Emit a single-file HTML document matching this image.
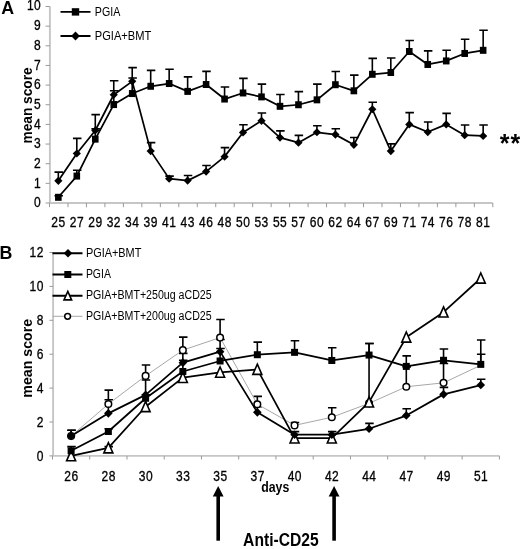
<!DOCTYPE html>
<html><head><meta charset="utf-8"><title>mean score chart</title>
<style>
html,body{margin:0;padding:0;background:#fff;}
body{width:520px;height:549px;overflow:hidden;}
svg{display:block;font-family:"Liberation Sans", sans-serif;will-change:transform;}
</style></head><body>
<svg width="520" height="549" viewBox="0 0 520 549">
<rect width="520" height="549" fill="#fff"/>
<path d="M49.9 6.5V203.0H492.8" stroke="#c6c6c6" stroke-width="1.9" fill="none"/>
<path d="M45.6 203H49.9M45.6 183.35H49.9M45.6 163.7H49.9M45.6 144.05H49.9M45.6 124.4H49.9M45.6 104.75H49.9M45.6 85.1H49.9M45.6 65.45H49.9M45.6 45.8H49.9M45.6 26.15H49.9M45.6 6.5H49.9M49.5 203.0V207.2M67.97 203.0V207.2M86.44 203.0V207.2M104.91 203.0V207.2M123.38 203.0V207.2M141.85 203.0V207.2M160.33 203.0V207.2M178.8 203.0V207.2M197.27 203.0V207.2M215.74 203.0V207.2M234.21 203.0V207.2M252.68 203.0V207.2M271.15 203.0V207.2M289.62 203.0V207.2M308.09 203.0V207.2M326.56 203.0V207.2M345.03 203.0V207.2M363.5 203.0V207.2M381.98 203.0V207.2M400.45 203.0V207.2M418.92 203.0V207.2M437.39 203.0V207.2M455.86 203.0V207.2M474.33 203.0V207.2M492.8 203.0V207.2" stroke="#9a9a9a" stroke-width="1" fill="none"/>
<text transform="translate(41.3 207.3) scale(0.86 1)" font-size="14" text-anchor="end" font-weight="normal" letter-spacing="0.6" stroke="#000" stroke-width="0.3">0</text>
<text transform="translate(41.3 187.65) scale(0.86 1)" font-size="14" text-anchor="end" font-weight="normal" letter-spacing="0.6" stroke="#000" stroke-width="0.3">1</text>
<text transform="translate(41.3 168) scale(0.86 1)" font-size="14" text-anchor="end" font-weight="normal" letter-spacing="0.6" stroke="#000" stroke-width="0.3">2</text>
<text transform="translate(41.3 148.35) scale(0.86 1)" font-size="14" text-anchor="end" font-weight="normal" letter-spacing="0.6" stroke="#000" stroke-width="0.3">3</text>
<text transform="translate(41.3 128.7) scale(0.86 1)" font-size="14" text-anchor="end" font-weight="normal" letter-spacing="0.6" stroke="#000" stroke-width="0.3">4</text>
<text transform="translate(41.3 109.05) scale(0.86 1)" font-size="14" text-anchor="end" font-weight="normal" letter-spacing="0.6" stroke="#000" stroke-width="0.3">5</text>
<text transform="translate(41.3 89.4) scale(0.86 1)" font-size="14" text-anchor="end" font-weight="normal" letter-spacing="0.6" stroke="#000" stroke-width="0.3">6</text>
<text transform="translate(41.3 69.75) scale(0.86 1)" font-size="14" text-anchor="end" font-weight="normal" letter-spacing="0.6" stroke="#000" stroke-width="0.3">7</text>
<text transform="translate(41.3 50.1) scale(0.86 1)" font-size="14" text-anchor="end" font-weight="normal" letter-spacing="0.6" stroke="#000" stroke-width="0.3">8</text>
<text transform="translate(41.3 30.45) scale(0.86 1)" font-size="14" text-anchor="end" font-weight="normal" letter-spacing="0.6" stroke="#000" stroke-width="0.3">9</text>
<text transform="translate(41.3 9.8) scale(0.86 1)" font-size="14" text-anchor="end" font-weight="normal" letter-spacing="0.6" stroke="#000" stroke-width="0.3">10</text>
<text transform="translate(58.44 227) scale(0.86 1)" font-size="14" text-anchor="middle" font-weight="normal" letter-spacing="0.6" stroke="#000" stroke-width="0.3">25</text>
<text transform="translate(76.91 227) scale(0.86 1)" font-size="14" text-anchor="middle" font-weight="normal" letter-spacing="0.6" stroke="#000" stroke-width="0.3">27</text>
<text transform="translate(95.38 227) scale(0.86 1)" font-size="14" text-anchor="middle" font-weight="normal" letter-spacing="0.6" stroke="#000" stroke-width="0.3">29</text>
<text transform="translate(113.85 227) scale(0.86 1)" font-size="14" text-anchor="middle" font-weight="normal" letter-spacing="0.6" stroke="#000" stroke-width="0.3">32</text>
<text transform="translate(132.32 227) scale(0.86 1)" font-size="14" text-anchor="middle" font-weight="normal" letter-spacing="0.6" stroke="#000" stroke-width="0.3">34</text>
<text transform="translate(150.79 227) scale(0.86 1)" font-size="14" text-anchor="middle" font-weight="normal" letter-spacing="0.6" stroke="#000" stroke-width="0.3">39</text>
<text transform="translate(169.26 227) scale(0.86 1)" font-size="14" text-anchor="middle" font-weight="normal" letter-spacing="0.6" stroke="#000" stroke-width="0.3">41</text>
<text transform="translate(187.73 227) scale(0.86 1)" font-size="14" text-anchor="middle" font-weight="normal" letter-spacing="0.6" stroke="#000" stroke-width="0.3">43</text>
<text transform="translate(206.2 227) scale(0.86 1)" font-size="14" text-anchor="middle" font-weight="normal" letter-spacing="0.6" stroke="#000" stroke-width="0.3">46</text>
<text transform="translate(224.67 227) scale(0.86 1)" font-size="14" text-anchor="middle" font-weight="normal" letter-spacing="0.6" stroke="#000" stroke-width="0.3">48</text>
<text transform="translate(243.14 227) scale(0.86 1)" font-size="14" text-anchor="middle" font-weight="normal" letter-spacing="0.6" stroke="#000" stroke-width="0.3">50</text>
<text transform="translate(261.61 227) scale(0.86 1)" font-size="14" text-anchor="middle" font-weight="normal" letter-spacing="0.6" stroke="#000" stroke-width="0.3">53</text>
<text transform="translate(280.09 227) scale(0.86 1)" font-size="14" text-anchor="middle" font-weight="normal" letter-spacing="0.6" stroke="#000" stroke-width="0.3">55</text>
<text transform="translate(298.56 227) scale(0.86 1)" font-size="14" text-anchor="middle" font-weight="normal" letter-spacing="0.6" stroke="#000" stroke-width="0.3">57</text>
<text transform="translate(317.03 227) scale(0.86 1)" font-size="14" text-anchor="middle" font-weight="normal" letter-spacing="0.6" stroke="#000" stroke-width="0.3">60</text>
<text transform="translate(335.5 227) scale(0.86 1)" font-size="14" text-anchor="middle" font-weight="normal" letter-spacing="0.6" stroke="#000" stroke-width="0.3">62</text>
<text transform="translate(353.97 227) scale(0.86 1)" font-size="14" text-anchor="middle" font-weight="normal" letter-spacing="0.6" stroke="#000" stroke-width="0.3">64</text>
<text transform="translate(372.44 227) scale(0.86 1)" font-size="14" text-anchor="middle" font-weight="normal" letter-spacing="0.6" stroke="#000" stroke-width="0.3">67</text>
<text transform="translate(390.91 227) scale(0.86 1)" font-size="14" text-anchor="middle" font-weight="normal" letter-spacing="0.6" stroke="#000" stroke-width="0.3">69</text>
<text transform="translate(409.38 227) scale(0.86 1)" font-size="14" text-anchor="middle" font-weight="normal" letter-spacing="0.6" stroke="#000" stroke-width="0.3">71</text>
<text transform="translate(427.85 227) scale(0.86 1)" font-size="14" text-anchor="middle" font-weight="normal" letter-spacing="0.6" stroke="#000" stroke-width="0.3">74</text>
<text transform="translate(446.32 227) scale(0.86 1)" font-size="14" text-anchor="middle" font-weight="normal" letter-spacing="0.6" stroke="#000" stroke-width="0.3">76</text>
<text transform="translate(464.79 227) scale(0.86 1)" font-size="14" text-anchor="middle" font-weight="normal" letter-spacing="0.6" stroke="#000" stroke-width="0.3">78</text>
<text transform="translate(483.26 227) scale(0.86 1)" font-size="14" text-anchor="middle" font-weight="normal" letter-spacing="0.6" stroke="#000" stroke-width="0.3">81</text>
<path d="M58.34 197.3V195.73M54.49 195.73H62.99" stroke="#000" stroke-width="1.6" fill="none"/>
<path d="M58.34 180.8V172.15M54.49 172.15H62.99" stroke="#000" stroke-width="1.6" fill="none"/>
<path d="M76.81 176.08V170.18M72.96 170.18H81.46" stroke="#000" stroke-width="1.6" fill="none"/>
<path d="M76.81 153.48V138.35M72.96 138.35H81.46" stroke="#000" stroke-width="1.6" fill="none"/>
<path d="M95.28 139.14V128.92M91.43 128.92H99.93" stroke="#000" stroke-width="1.6" fill="none"/>
<path d="M95.28 130.49V114.58M91.43 114.58H99.93" stroke="#000" stroke-width="1.6" fill="none"/>
<path d="M113.75 104.55V90.8M109.9 90.8H118.4" stroke="#000" stroke-width="1.6" fill="none"/>
<path d="M113.75 94.73V80.78M109.9 80.78H118.4" stroke="#000" stroke-width="1.6" fill="none"/>
<path d="M132.22 93.55V78.03M128.37 78.03H136.87" stroke="#000" stroke-width="1.6" fill="none"/>
<path d="M132.22 81.37V67.61M128.37 67.61H136.87" stroke="#000" stroke-width="1.6" fill="none"/>
<path d="M150.69 86.28V70.36M146.84 70.36H155.34" stroke="#000" stroke-width="1.6" fill="none"/>
<path d="M150.69 151.12V142.67M146.84 142.67H155.34" stroke="#000" stroke-width="1.6" fill="none"/>
<path d="M169.16 83.53V69.18M165.31 69.18H173.81" stroke="#000" stroke-width="1.6" fill="none"/>
<path d="M169.16 178.63V176.08M165.31 176.08H173.81" stroke="#000" stroke-width="1.6" fill="none"/>
<path d="M187.63 91.39V76.85M183.78 76.85H192.28" stroke="#000" stroke-width="1.6" fill="none"/>
<path d="M187.63 180.6V175.49M183.78 175.49H192.28" stroke="#000" stroke-width="1.6" fill="none"/>
<path d="M206.1 84.51V71.34M202.25 71.34H210.75" stroke="#000" stroke-width="1.6" fill="none"/>
<path d="M206.1 171.56V165.47M202.25 165.47H210.75" stroke="#000" stroke-width="1.6" fill="none"/>
<path d="M224.57 99.05V87.06M220.72 87.06H229.22" stroke="#000" stroke-width="1.6" fill="none"/>
<path d="M224.57 156.63V147.59M220.72 147.59H229.22" stroke="#000" stroke-width="1.6" fill="none"/>
<path d="M243.04 92.96V78.42M239.19 78.42H247.69" stroke="#000" stroke-width="1.6" fill="none"/>
<path d="M243.04 132.46V124.79M239.19 124.79H247.69" stroke="#000" stroke-width="1.6" fill="none"/>
<path d="M261.51 96.89V84.12M257.66 84.12H266.16" stroke="#000" stroke-width="1.6" fill="none"/>
<path d="M261.51 120.86V113M257.66 113H266.16" stroke="#000" stroke-width="1.6" fill="none"/>
<path d="M279.99 106.32V94.53M276.14 94.53H284.64" stroke="#000" stroke-width="1.6" fill="none"/>
<path d="M279.99 137.57V130.88M276.14 130.88H284.64" stroke="#000" stroke-width="1.6" fill="none"/>
<path d="M298.46 104.75V91.58M294.61 91.58H303.11" stroke="#000" stroke-width="1.6" fill="none"/>
<path d="M298.46 142.67V135.4M294.61 135.4H303.11" stroke="#000" stroke-width="1.6" fill="none"/>
<path d="M316.93 99.84V84.12M313.08 84.12H321.58" stroke="#000" stroke-width="1.6" fill="none"/>
<path d="M316.93 132.26V125.78M313.08 125.78H321.58" stroke="#000" stroke-width="1.6" fill="none"/>
<path d="M335.4 84.71V71.54M331.55 71.54H340.05" stroke="#000" stroke-width="1.6" fill="none"/>
<path d="M335.4 134.62V128.72M331.55 128.72H340.05" stroke="#000" stroke-width="1.6" fill="none"/>
<path d="M353.87 90.8V75.08M350.02 75.08H358.52" stroke="#000" stroke-width="1.6" fill="none"/>
<path d="M353.87 144.84V137.57M350.02 137.57H358.52" stroke="#000" stroke-width="1.6" fill="none"/>
<path d="M372.34 74.29V58.38M368.49 58.38H376.99" stroke="#000" stroke-width="1.6" fill="none"/>
<path d="M372.34 109.27V102.2M368.49 102.2H376.99" stroke="#000" stroke-width="1.6" fill="none"/>
<path d="M390.81 72.52V57.98M386.96 57.98H395.46" stroke="#000" stroke-width="1.6" fill="none"/>
<path d="M390.81 151.12V143.85M386.96 143.85H395.46" stroke="#000" stroke-width="1.6" fill="none"/>
<path d="M409.28 51.5V40.49M405.43 40.49H413.93" stroke="#000" stroke-width="1.6" fill="none"/>
<path d="M409.28 124.4V112.61M405.43 112.61H413.93" stroke="#000" stroke-width="1.6" fill="none"/>
<path d="M427.75 64.47V50.91M423.9 50.91H432.4" stroke="#000" stroke-width="1.6" fill="none"/>
<path d="M427.75 132.06V122.04M423.9 122.04H432.4" stroke="#000" stroke-width="1.6" fill="none"/>
<path d="M446.22 60.93V50.32M442.37 50.32H450.87" stroke="#000" stroke-width="1.6" fill="none"/>
<path d="M446.22 124.4V113.4M442.37 113.4H450.87" stroke="#000" stroke-width="1.6" fill="none"/>
<path d="M464.69 53.46V39.32M460.84 39.32H469.34" stroke="#000" stroke-width="1.6" fill="none"/>
<path d="M464.69 135.21V124.99M460.84 124.99H469.34" stroke="#000" stroke-width="1.6" fill="none"/>
<path d="M483.16 50.32V30.28M479.31 30.28H487.81" stroke="#000" stroke-width="1.6" fill="none"/>
<path d="M483.16 135.99V124.99M479.31 124.99H487.81" stroke="#000" stroke-width="1.6" fill="none"/>
<polyline points="58.34,197.3 76.81,176.08 95.28,139.14 113.75,104.55 132.22,93.55 150.69,86.28 169.16,83.53 187.63,91.39 206.1,84.51 224.57,99.05 243.04,92.96 261.51,96.89 279.99,106.32 298.46,104.75 316.93,99.84 335.4,84.71 353.87,90.8 372.34,74.29 390.81,72.52 409.28,51.5 427.75,64.47 446.22,60.93 464.69,53.46 483.16,50.32" fill="none" stroke="#000" stroke-width="1.75" stroke-linejoin="round"/>
<polyline points="58.34,180.8 76.81,153.48 95.28,130.49 113.75,94.73 132.22,81.37 150.69,151.12 169.16,178.63 187.63,180.6 206.1,171.56 224.57,156.63 243.04,132.46 261.51,120.86 279.99,137.57 298.46,142.67 316.93,132.26 335.4,134.62 353.87,144.84 372.34,109.27 390.81,151.12 409.28,124.4 427.75,132.06 446.22,124.4 464.69,135.21 483.16,135.99" fill="none" stroke="#000" stroke-width="1.75" stroke-linejoin="round"/>
<rect x="55.04" y="193.8" width="6.6" height="7" fill="#000"/>
<path d="M58.34 176.7L62.44 180.8L58.34 184.9L54.24 180.8Z" fill="#000"/>
<rect x="73.51" y="172.58" width="6.6" height="7" fill="#000"/>
<path d="M76.81 149.38L80.91 153.48L76.81 157.58L72.71 153.48Z" fill="#000"/>
<rect x="91.98" y="135.64" width="6.6" height="7" fill="#000"/>
<path d="M95.28 126.39L99.38 130.49L95.28 134.59L91.18 130.49Z" fill="#000"/>
<rect x="110.45" y="101.05" width="6.6" height="7" fill="#000"/>
<path d="M113.75 90.63L117.85 94.73L113.75 98.83L109.65 94.73Z" fill="#000"/>
<rect x="128.92" y="90.05" width="6.6" height="7" fill="#000"/>
<path d="M132.22 77.27L136.32 81.37L132.22 85.47L128.12 81.37Z" fill="#000"/>
<rect x="147.39" y="82.78" width="6.6" height="7" fill="#000"/>
<path d="M150.69 147.02L154.79 151.12L150.69 155.22L146.59 151.12Z" fill="#000"/>
<rect x="165.86" y="80.03" width="6.6" height="7" fill="#000"/>
<path d="M169.16 174.53L173.26 178.63L169.16 182.73L165.06 178.63Z" fill="#000"/>
<rect x="184.33" y="87.89" width="6.6" height="7" fill="#000"/>
<path d="M187.63 176.5L191.73 180.6L187.63 184.7L183.53 180.6Z" fill="#000"/>
<rect x="202.8" y="81.01" width="6.6" height="7" fill="#000"/>
<path d="M206.1 167.46L210.2 171.56L206.1 175.66L202 171.56Z" fill="#000"/>
<rect x="221.27" y="95.55" width="6.6" height="7" fill="#000"/>
<path d="M224.57 152.53L228.67 156.63L224.57 160.73L220.47 156.63Z" fill="#000"/>
<rect x="239.74" y="89.46" width="6.6" height="7" fill="#000"/>
<path d="M243.04 128.36L247.14 132.46L243.04 136.56L238.94 132.46Z" fill="#000"/>
<rect x="258.21" y="93.39" width="6.6" height="7" fill="#000"/>
<path d="M261.51 116.76L265.61 120.86L261.51 124.96L257.41 120.86Z" fill="#000"/>
<rect x="276.69" y="102.82" width="6.6" height="7" fill="#000"/>
<path d="M279.99 133.47L284.09 137.57L279.99 141.67L275.89 137.57Z" fill="#000"/>
<rect x="295.16" y="101.25" width="6.6" height="7" fill="#000"/>
<path d="M298.46 138.57L302.56 142.67L298.46 146.77L294.36 142.67Z" fill="#000"/>
<rect x="313.63" y="96.34" width="6.6" height="7" fill="#000"/>
<path d="M316.93 128.16L321.03 132.26L316.93 136.36L312.83 132.26Z" fill="#000"/>
<rect x="332.1" y="81.21" width="6.6" height="7" fill="#000"/>
<path d="M335.4 130.52L339.5 134.62L335.4 138.72L331.3 134.62Z" fill="#000"/>
<rect x="350.57" y="87.3" width="6.6" height="7" fill="#000"/>
<path d="M353.87 140.74L357.97 144.84L353.87 148.94L349.77 144.84Z" fill="#000"/>
<rect x="369.04" y="70.79" width="6.6" height="7" fill="#000"/>
<path d="M372.34 105.17L376.44 109.27L372.34 113.37L368.24 109.27Z" fill="#000"/>
<rect x="387.51" y="69.02" width="6.6" height="7" fill="#000"/>
<path d="M390.81 147.02L394.91 151.12L390.81 155.22L386.71 151.12Z" fill="#000"/>
<rect x="405.98" y="48" width="6.6" height="7" fill="#000"/>
<path d="M409.28 120.3L413.38 124.4L409.28 128.5L405.18 124.4Z" fill="#000"/>
<rect x="424.45" y="60.97" width="6.6" height="7" fill="#000"/>
<path d="M427.75 127.96L431.85 132.06L427.75 136.16L423.65 132.06Z" fill="#000"/>
<rect x="442.92" y="57.43" width="6.6" height="7" fill="#000"/>
<path d="M446.22 120.3L450.32 124.4L446.22 128.5L442.12 124.4Z" fill="#000"/>
<rect x="461.39" y="49.96" width="6.6" height="7" fill="#000"/>
<path d="M464.69 131.11L468.79 135.21L464.69 139.31L460.59 135.21Z" fill="#000"/>
<rect x="479.86" y="46.82" width="6.6" height="7" fill="#000"/>
<path d="M483.16 131.89L487.26 135.99L483.16 140.09L479.06 135.99Z" fill="#000"/>
<path d="M60.5 11.9H90.5M60.5 36H90.5" stroke="#000" stroke-width="1.9"/>
<rect x="71.8" y="8.2" width="7.4" height="7.4" fill="#000"/>
<path d="M75.5 31.6L79.9 36L75.5 40.4L71.1 36Z" fill="#000"/>
<text x="94.8" y="16.2" font-size="13" text-anchor="start" font-weight="normal" textLength="25.5" lengthAdjust="spacingAndGlyphs">PGIA</text>
<text x="94.8" y="40.4" font-size="13" text-anchor="start" font-weight="normal" textLength="56.5" lengthAdjust="spacingAndGlyphs">PGIA+BMT</text>
<text x="1.2" y="13.9" font-size="17.8" text-anchor="start" font-weight="bold">A</text>
<text x="0" y="0" font-size="14.5" font-weight="bold" text-anchor="middle" transform="translate(31.6 105.4) rotate(-90)" textLength="76.2" lengthAdjust="spacingAndGlyphs">mean score</text>
<text x="504.5" y="152.2" font-size="25" text-anchor="middle" font-weight="bold">*</text>
<text x="515.3" y="152.2" font-size="25" text-anchor="middle" font-weight="bold">*</text>
<path d="M53.1 252.5V455.9H499.4" stroke="#c6c6c6" stroke-width="1.9" fill="none"/>
<path d="M49.4 455.9H53.1M49.4 422H53.1M49.4 388.1H53.1M49.4 354.2H53.1M49.4 320.3H53.1M49.4 286.4H53.1M49.4 252.5H53.1M52.5 455.9V459.5M89.74 455.9V459.5M126.98 455.9V459.5M164.22 455.9V459.5M201.47 455.9V459.5M238.71 455.9V459.5M275.95 455.9V459.5M313.19 455.9V459.5M350.43 455.9V459.5M387.68 455.9V459.5M424.92 455.9V459.5M462.16 455.9V459.5M499.4 455.9V459.5" stroke="#9a9a9a" stroke-width="1" fill="none"/>
<text transform="translate(43.9 460.5) scale(0.86 1)" font-size="14" text-anchor="end" font-weight="normal" letter-spacing="0.6" stroke="#000" stroke-width="0.3">0</text>
<text transform="translate(43.9 426.6) scale(0.86 1)" font-size="14" text-anchor="end" font-weight="normal" letter-spacing="0.6" stroke="#000" stroke-width="0.3">2</text>
<text transform="translate(43.9 392.7) scale(0.86 1)" font-size="14" text-anchor="end" font-weight="normal" letter-spacing="0.6" stroke="#000" stroke-width="0.3">4</text>
<text transform="translate(43.9 358.8) scale(0.86 1)" font-size="14" text-anchor="end" font-weight="normal" letter-spacing="0.6" stroke="#000" stroke-width="0.3">6</text>
<text transform="translate(43.9 324.9) scale(0.86 1)" font-size="14" text-anchor="end" font-weight="normal" letter-spacing="0.6" stroke="#000" stroke-width="0.3">8</text>
<text transform="translate(43.9 291) scale(0.86 1)" font-size="14" text-anchor="end" font-weight="normal" letter-spacing="0.6" stroke="#000" stroke-width="0.3">10</text>
<text transform="translate(43.9 257.1) scale(0.86 1)" font-size="14" text-anchor="end" font-weight="normal" letter-spacing="0.6" stroke="#000" stroke-width="0.3">12</text>
<text transform="translate(71.42 480.6) scale(0.86 1)" font-size="14" text-anchor="middle" font-weight="normal" letter-spacing="0.6" stroke="#000" stroke-width="0.3">26</text>
<text transform="translate(108.66 480.6) scale(0.86 1)" font-size="14" text-anchor="middle" font-weight="normal" letter-spacing="0.6" stroke="#000" stroke-width="0.3">28</text>
<text transform="translate(145.9 480.6) scale(0.86 1)" font-size="14" text-anchor="middle" font-weight="normal" letter-spacing="0.6" stroke="#000" stroke-width="0.3">30</text>
<text transform="translate(183.15 480.6) scale(0.86 1)" font-size="14" text-anchor="middle" font-weight="normal" letter-spacing="0.6" stroke="#000" stroke-width="0.3">33</text>
<text transform="translate(220.39 480.6) scale(0.86 1)" font-size="14" text-anchor="middle" font-weight="normal" letter-spacing="0.6" stroke="#000" stroke-width="0.3">35</text>
<text transform="translate(257.63 480.6) scale(0.86 1)" font-size="14" text-anchor="middle" font-weight="normal" letter-spacing="0.6" stroke="#000" stroke-width="0.3">37</text>
<text transform="translate(294.87 480.6) scale(0.86 1)" font-size="14" text-anchor="middle" font-weight="normal" letter-spacing="0.6" stroke="#000" stroke-width="0.3">40</text>
<text transform="translate(332.11 480.6) scale(0.86 1)" font-size="14" text-anchor="middle" font-weight="normal" letter-spacing="0.6" stroke="#000" stroke-width="0.3">42</text>
<text transform="translate(369.35 480.6) scale(0.86 1)" font-size="14" text-anchor="middle" font-weight="normal" letter-spacing="0.6" stroke="#000" stroke-width="0.3">44</text>
<text transform="translate(406.6 480.6) scale(0.86 1)" font-size="14" text-anchor="middle" font-weight="normal" letter-spacing="0.6" stroke="#000" stroke-width="0.3">47</text>
<text transform="translate(443.84 480.6) scale(0.86 1)" font-size="14" text-anchor="middle" font-weight="normal" letter-spacing="0.6" stroke="#000" stroke-width="0.3">49</text>
<text transform="translate(481.08 480.6) scale(0.86 1)" font-size="14" text-anchor="middle" font-weight="normal" letter-spacing="0.6" stroke="#000" stroke-width="0.3">51</text>
<path d="M71.12 436.07V430.31M67.27 430.31H75.77" stroke="#000" stroke-width="1.6" fill="none"/>
<path d="M71.12 450.81V446.58M67.27 446.58H75.77" stroke="#000" stroke-width="1.6" fill="none"/>
<path d="M71.12 436.07V430.31M67.27 430.31H75.77" stroke="#000" stroke-width="1.6" fill="none"/>
<path d="M108.36 413.36V399.8M104.51 399.8H113.01" stroke="#000" stroke-width="1.6" fill="none"/>
<path d="M108.36 431.49V428.78M104.51 428.78H113.01" stroke="#000" stroke-width="1.6" fill="none"/>
<path d="M108.36 447.93V446.58M104.51 446.58H113.01" stroke="#000" stroke-width="1.6" fill="none"/>
<path d="M108.36 404.03V390.13M104.51 390.13H113.01" stroke="#000" stroke-width="1.6" fill="none"/>
<path d="M145.6 394.88V379.96M141.75 379.96H150.25" stroke="#000" stroke-width="1.6" fill="none"/>
<path d="M145.6 398.27V394.88M141.75 394.88H150.25" stroke="#000" stroke-width="1.6" fill="none"/>
<path d="M145.6 375.9V365.05M141.75 365.05H150.25" stroke="#000" stroke-width="1.6" fill="none"/>
<path d="M182.85 362.67V353.35M179 353.35H187.5" stroke="#000" stroke-width="1.6" fill="none"/>
<path d="M182.85 371.49V360.3M179 360.3H187.5" stroke="#000" stroke-width="1.6" fill="none"/>
<path d="M182.85 350.13V337.08M179 337.08H187.5" stroke="#000" stroke-width="1.6" fill="none"/>
<path d="M220.09 351.66V348.44M216.24 348.44H224.74" stroke="#000" stroke-width="1.6" fill="none"/>
<path d="M220.09 360.98V339.45M216.24 339.45H224.74" stroke="#000" stroke-width="1.6" fill="none"/>
<path d="M220.09 337.59V319.45M216.24 319.45H224.74" stroke="#000" stroke-width="1.6" fill="none"/>
<path d="M257.33 412.34V406.75M253.48 406.75H261.98" stroke="#000" stroke-width="1.6" fill="none"/>
<path d="M257.33 354.71V342.17M253.48 342.17H261.98" stroke="#000" stroke-width="1.6" fill="none"/>
<path d="M257.33 404.2V396.41M253.48 396.41H261.98" stroke="#000" stroke-width="1.6" fill="none"/>
<path d="M294.57 434.71V431.66M290.72 431.66H299.22" stroke="#000" stroke-width="1.6" fill="none"/>
<path d="M294.57 352.34V340.81M290.72 340.81H299.22" stroke="#000" stroke-width="1.6" fill="none"/>
<path d="M294.57 425.39V422.51M290.72 422.51H299.22" stroke="#000" stroke-width="1.6" fill="none"/>
<path d="M331.81 434.71V431.66M327.96 431.66H336.46" stroke="#000" stroke-width="1.6" fill="none"/>
<path d="M331.81 360.47V347.76M327.96 347.76H336.46" stroke="#000" stroke-width="1.6" fill="none"/>
<path d="M331.81 417.25V407.76M327.96 407.76H336.46" stroke="#000" stroke-width="1.6" fill="none"/>
<path d="M369.05 428.78V423.36M365.2 423.36H373.7" stroke="#000" stroke-width="1.6" fill="none"/>
<path d="M369.05 355.05V343.52M365.2 343.52H373.7" stroke="#000" stroke-width="1.6" fill="none"/>
<path d="M369.05 402.17V343.52M365.2 343.52H373.7" stroke="#000" stroke-width="1.6" fill="none"/>
<path d="M406.3 415.56V408.78M402.45 408.78H410.95" stroke="#000" stroke-width="1.6" fill="none"/>
<path d="M406.3 366.4V355.89M402.45 355.89H410.95" stroke="#000" stroke-width="1.6" fill="none"/>
<path d="M406.3 386.74V366.91M402.45 366.91H410.95" stroke="#000" stroke-width="1.6" fill="none"/>
<path d="M443.54 394.37V387.42M439.69 387.42H448.19" stroke="#000" stroke-width="1.6" fill="none"/>
<path d="M443.54 360.3V348.95M439.69 348.95H448.19" stroke="#000" stroke-width="1.6" fill="none"/>
<path d="M443.54 382.85V363.52M439.69 363.52H448.19" stroke="#000" stroke-width="1.6" fill="none"/>
<path d="M480.78 385.05V379.29M476.93 379.29H485.43" stroke="#000" stroke-width="1.6" fill="none"/>
<path d="M480.78 364.37V339.96M476.93 339.96H485.43" stroke="#000" stroke-width="1.6" fill="none"/>
<path d="M480.78 365.22V354.2M476.93 354.2H485.43" stroke="#000" stroke-width="1.6" fill="none"/>
<polyline points="71.12,436.07 108.36,404.03 145.6,375.9 182.85,350.13 220.09,337.59 257.33,404.2 294.57,425.39 331.81,417.25 369.05,403.35 406.3,386.74 443.54,382.85 480.78,365.22" fill="none" stroke="#a8a8a8" stroke-width="1.0" stroke-linejoin="round"/>
<polyline points="71.12,455.9 108.36,447.93 145.6,406.75 182.85,377.59 220.09,372.34 257.33,369.45 294.57,438.1 331.81,438.1 369.05,402.17 406.3,337.25 443.54,312.16 480.78,278.26" fill="none" stroke="#000" stroke-width="1.75" stroke-linejoin="round"/>
<polyline points="71.12,450.81 108.36,431.49 145.6,398.27 182.85,371.49 220.09,360.98 257.33,354.71 294.57,352.34 331.81,360.47 369.05,355.05 406.3,366.4 443.54,360.3 480.78,364.37" fill="none" stroke="#000" stroke-width="1.75" stroke-linejoin="round"/>
<polyline points="71.12,436.07 108.36,413.36 145.6,394.88 182.85,362.67 220.09,351.66 257.33,412.34 294.57,434.71 331.81,434.71 369.05,428.78 406.3,415.56 443.54,394.37 480.78,385.05" fill="none" stroke="#000" stroke-width="1.75" stroke-linejoin="round"/>
<circle cx="71.12" cy="436.07" r="3.3" fill="#fff" stroke="#000" stroke-width="1.5"/>
<circle cx="108.36" cy="404.03" r="3.3" fill="#fff" stroke="#000" stroke-width="1.5"/>
<circle cx="145.6" cy="375.9" r="3.3" fill="#fff" stroke="#000" stroke-width="1.5"/>
<circle cx="182.85" cy="350.13" r="3.3" fill="#fff" stroke="#000" stroke-width="1.5"/>
<circle cx="220.09" cy="337.59" r="3.3" fill="#fff" stroke="#000" stroke-width="1.5"/>
<circle cx="257.33" cy="404.2" r="3.3" fill="#fff" stroke="#000" stroke-width="1.5"/>
<circle cx="294.57" cy="425.39" r="3.3" fill="#fff" stroke="#000" stroke-width="1.5"/>
<circle cx="331.81" cy="417.25" r="3.3" fill="#fff" stroke="#000" stroke-width="1.5"/>
<circle cx="369.05" cy="403.35" r="3.3" fill="#fff" stroke="#000" stroke-width="1.5"/>
<circle cx="406.3" cy="386.74" r="3.3" fill="#fff" stroke="#000" stroke-width="1.5"/>
<circle cx="443.54" cy="382.85" r="3.3" fill="#fff" stroke="#000" stroke-width="1.5"/>
<path d="M71.12 450.6L75.62 460.8L66.62 460.8Z" fill="#fff" stroke="#000" stroke-width="1.6" stroke-linejoin="miter"/>
<path d="M108.36 442.63L112.86 452.83L103.86 452.83Z" fill="#fff" stroke="#000" stroke-width="1.6" stroke-linejoin="miter"/>
<path d="M145.6 401.44L150.1 411.64L141.1 411.64Z" fill="#fff" stroke="#000" stroke-width="1.6" stroke-linejoin="miter"/>
<path d="M182.85 372.29L187.35 382.49L178.35 382.49Z" fill="#fff" stroke="#000" stroke-width="1.6" stroke-linejoin="miter"/>
<path d="M220.09 367.03L224.59 377.23L215.59 377.23Z" fill="#fff" stroke="#000" stroke-width="1.6" stroke-linejoin="miter"/>
<path d="M257.33 364.15L261.83 374.35L252.83 374.35Z" fill="#fff" stroke="#000" stroke-width="1.6" stroke-linejoin="miter"/>
<path d="M294.57 432.8L299.07 443L290.07 443Z" fill="#fff" stroke="#000" stroke-width="1.6" stroke-linejoin="miter"/>
<path d="M331.81 432.8L336.31 443L327.31 443Z" fill="#fff" stroke="#000" stroke-width="1.6" stroke-linejoin="miter"/>
<path d="M369.05 396.86L373.55 407.06L364.55 407.06Z" fill="#fff" stroke="#000" stroke-width="1.6" stroke-linejoin="miter"/>
<path d="M406.3 331.95L410.8 342.15L401.8 342.15Z" fill="#fff" stroke="#000" stroke-width="1.6" stroke-linejoin="miter"/>
<path d="M443.54 306.86L448.04 317.06L439.04 317.06Z" fill="#fff" stroke="#000" stroke-width="1.6" stroke-linejoin="miter"/>
<path d="M480.78 272.96L485.28 283.16L476.28 283.16Z" fill="#fff" stroke="#000" stroke-width="1.6" stroke-linejoin="miter"/>
<rect x="67.62" y="447.31" width="7" height="7" fill="#000"/>
<rect x="104.86" y="427.99" width="7" height="7" fill="#000"/>
<rect x="142.1" y="394.77" width="7" height="7" fill="#000"/>
<rect x="179.35" y="367.99" width="7" height="7" fill="#000"/>
<rect x="216.59" y="357.48" width="7" height="7" fill="#000"/>
<rect x="253.83" y="351.21" width="7" height="7" fill="#000"/>
<rect x="291.07" y="348.84" width="7" height="7" fill="#000"/>
<rect x="328.31" y="356.97" width="7" height="7" fill="#000"/>
<rect x="365.55" y="351.55" width="7" height="7" fill="#000"/>
<rect x="402.8" y="362.9" width="7" height="7" fill="#000"/>
<rect x="440.04" y="356.8" width="7" height="7" fill="#000"/>
<rect x="477.28" y="360.87" width="7" height="7" fill="#000"/>
<path d="M71.12 431.77L75.42 436.07L71.12 440.37L66.82 436.07Z" fill="#000"/>
<path d="M108.36 409.06L112.66 413.36L108.36 417.66L104.06 413.36Z" fill="#000"/>
<path d="M145.6 390.58L149.9 394.88L145.6 399.18L141.3 394.88Z" fill="#000"/>
<path d="M182.85 358.37L187.15 362.67L182.85 366.97L178.55 362.67Z" fill="#000"/>
<path d="M220.09 347.36L224.39 351.66L220.09 355.96L215.79 351.66Z" fill="#000"/>
<path d="M257.33 408.04L261.63 412.34L257.33 416.64L253.03 412.34Z" fill="#000"/>
<path d="M294.57 430.41L298.87 434.71L294.57 439.01L290.27 434.71Z" fill="#000"/>
<path d="M331.81 430.41L336.11 434.71L331.81 439.01L327.51 434.71Z" fill="#000"/>
<path d="M369.05 424.48L373.35 428.78L369.05 433.08L364.75 428.78Z" fill="#000"/>
<path d="M406.3 411.26L410.6 415.56L406.3 419.86L402 415.56Z" fill="#000"/>
<path d="M443.54 390.07L447.84 394.37L443.54 398.67L439.24 394.37Z" fill="#000"/>
<path d="M480.78 380.75L485.08 385.05L480.78 389.35L476.48 385.05Z" fill="#000"/>
<path d="M52.5 253.2H82.5M52.5 274.5H82.5M52.5 295.8H82.5" stroke="#000" stroke-width="2"/>
<path d="M52.5 316.3H82.5" stroke="#a8a8a8" stroke-width="1"/>
<path d="M68 248.9L72.3 253.2L68 257.5L63.7 253.2Z" fill="#000"/>
<rect x="64.3" y="271" width="7" height="7" fill="#000"/>
<path d="M67.8 291.43L71.6 299.83L64 299.83Z" fill="#fff" stroke="#000" stroke-width="1.6" stroke-linejoin="miter"/>
<circle cx="67.6" cy="316.3" r="2.9" fill="#fff" stroke="#000" stroke-width="1.5"/>
<text x="85.9" y="256.6" font-size="12" text-anchor="start" font-weight="normal" textLength="55.4" lengthAdjust="spacingAndGlyphs">PGIA+BMT</text>
<text x="85.9" y="278" font-size="12" text-anchor="start" font-weight="normal" textLength="25" lengthAdjust="spacingAndGlyphs">PGIA</text>
<text x="85.9" y="299" font-size="12" text-anchor="start" font-weight="normal" textLength="125.8" lengthAdjust="spacingAndGlyphs">PGIA+BMT+250ug aCD25</text>
<text x="85.9" y="319.9" font-size="12" text-anchor="start" font-weight="normal" textLength="125.8" lengthAdjust="spacingAndGlyphs">PGIA+BMT+200ug aCD25</text>
<text x="-0.4" y="258.7" font-size="17.8" text-anchor="start" font-weight="bold">B</text>
<text x="0" y="0" font-size="14.5" font-weight="bold" text-anchor="middle" transform="translate(32.1 358.3) rotate(-90)" textLength="78.7" lengthAdjust="spacingAndGlyphs">mean score</text>
<text transform="translate(275.2 491.8) scale(0.88 1)" font-size="14" text-anchor="middle" font-weight="bold">days</text>
<path d="M218.2 494V540.7" stroke="#000" stroke-width="3.6"/>
<path d="M218.2 485.9L223.6 496.5L212.8 496.5Z" fill="#000"/>
<path d="M334.1 494V540.7" stroke="#000" stroke-width="3.6"/>
<path d="M334.1 485.9L339.5 496.5L328.7 496.5Z" fill="#000"/>
<text x="243.1" y="546.4" font-size="17.5" text-anchor="start" font-weight="bold" textLength="75.6" lengthAdjust="spacingAndGlyphs">Anti-CD25</text>
</svg>
</body></html>
